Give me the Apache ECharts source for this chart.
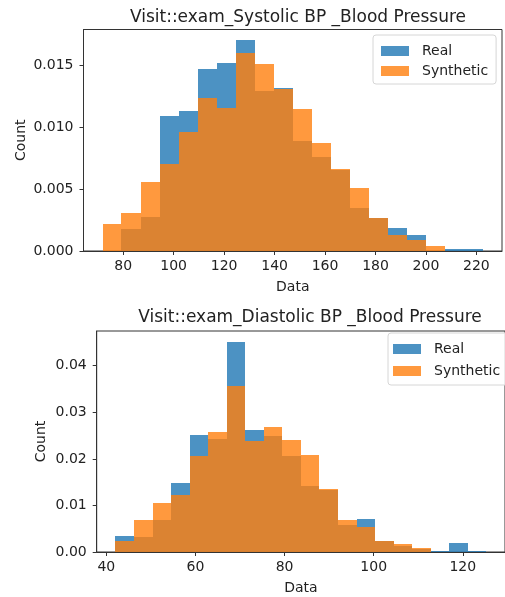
<!DOCTYPE html>
<html>
<head>
<meta charset="utf-8">
<script src="https://cdn.jsdelivr.net/npm/echarts@6/dist/echarts.min.js"></script>
<style>
html,body{margin:0;padding:0;background:#fff;}
#chart{width:505px;height:597px;}
</style>
</head>
<body>
<div id="chart"></div>
<script>
// ---- Data ----
const sysTitle = "Visit::exam_Systolic BP _Blood Pressure";
const diaTitle = "Visit::exam_Diastolic BP _Blood Pressure";
const seriesNames = ["Real", "Synthetic"];

const sysEdges = [71.8, 79.3, 86.9, 94.4, 102.0, 109.5, 117.0, 124.6, 132.1, 139.7, 147.2,
                  154.7, 162.3, 169.8, 177.4, 184.9, 192.4, 200.0, 207.5, 215.1, 222.6];
const sysReal = [0.0000, 0.00175, 0.00277, 0.01089, 0.01129, 0.0147, 0.01513, 0.01702, 0.01293, 0.01317,
                 0.0089, 0.00761, 0.00653, 0.00344, 0.00263, 0.00188, 0.00129, 0.0000, 0.0002, 0.0002];
const sysSynth = [0.00215, 0.00306, 0.00559, 0.00699, 0.00957, 0.01237, 0.0115, 0.01594, 0.01505, 0.01304,
                  0.01145, 0.00874, 0.00664, 0.00505, 0.00263, 0.00131, 0.0009, 0.0004, 0.0, 0.0];
const sysXTicks = [80, 100, 120, 140, 160, 180, 200, 220];
const sysYTicks = [0, 0.005, 0.010, 0.015];

const diaEdges = [42.0, 46.2, 50.4, 54.5, 58.7, 62.8, 67.0, 71.2, 75.3, 79.5, 83.7,
                  87.8, 92.0, 96.2, 100.3, 104.5, 108.6, 112.8, 117.0, 121.1, 125.3];
const diaReal = [0.0034, 0.0032, 0.0068, 0.01488, 0.02505, 0.02434, 0.0452, 0.02612, 0.02484, 0.02057,
                 0.01416, 0.0134, 0.0058, 0.0070, 0.0023, 0.0013, 0.0006, 0.0003, 0.0020, 0.0003];
const diaSynth = [0.0024, 0.0069, 0.0105, 0.01217, 0.02057, 0.02569, 0.03559, 0.02384, 0.02676, 0.02413,
                  0.02078, 0.0135, 0.0069, 0.0054, 0.0024, 0.0018, 0.0009, 0.0, 0.0, 0.0];
const diaXTicks = [40, 60, 80, 100, 120];
const diaYTicks = [0, 0.01, 0.02, 0.03, 0.04];

// ---- Build ----
const BLUE = '#1f77b4', ORANGE = '#ff7f0e';
const FONT = "'DejaVu Sans', sans-serif";
const TXT = '#222';
const FS = 14;

function binData(edges, vals) {
  return vals.map((v, i) => [edges[i], edges[i + 1], v]);
}
function histSeries(name, color, edges, vals, idx) {
  return {
    type: 'custom', name: name, xAxisIndex: idx, yAxisIndex: idx,
    itemStyle: { color: color, opacity: 0.8 },
    data: binData(edges, vals),
    encode: { x: [0, 1], y: 2 },
    renderItem: function (params, api) {
      const p0 = api.coord([api.value(0), api.value(2)]);
      const p1 = api.coord([api.value(1), 0]);
      const x0 = Math.round(p0[0]), x1 = Math.round(p1[0]);
      const y0 = Math.round(p0[1]), y1 = Math.round(p1[1]);
      return {
        type: 'rect',
        shape: { x: x0, y: y0, width: x1 - x0, height: y1 - y0 },
        style: { fill: color, opacity: 0.8 }
      };
    }
  };
}
function xRange(edges) {
  const lo = edges[0], hi = edges[edges.length - 1], m = (hi - lo) * 0.05;
  return [lo - m, hi + m];
}
function xAx(idx, edges, ticks) {
  const r = xRange(edges);
  return {
    type: 'value', gridIndex: idx, min: r[0], max: r[1],
    name: 'Data', nameLocation: 'middle', nameGap: 29,
    nameTextStyle: { fontFamily: FONT, fontSize: FS, color: TXT },
    axisLine: { lineStyle: { color: '#333', width: 1 } },
    axisTick: { length: 4, lineStyle: { color: '#333' }, customValues: ticks },
    axisLabel: { customValues: ticks, fontFamily: FONT, fontSize: FS, color: TXT, margin: 8 },
    splitLine: { show: false }
  };
}
function yAx(idx, vals1, vals2, ticks, dec, gap) {
  const mx = Math.max(...vals1, ...vals2) * 1.05;
  return {
    type: 'value', gridIndex: idx, min: 0, max: mx,
    name: 'Count', nameLocation: 'middle', nameGap: gap, nameMoveOverlap: false,
    nameTextStyle: { fontFamily: FONT, fontSize: FS, color: TXT },
    axisLine: { show: true, lineStyle: { color: '#333', width: 1 } },
    axisTick: { show: true, length: 4, lineStyle: { color: '#333' }, customValues: ticks },
    axisLabel: { customValues: ticks, fontFamily: FONT, fontSize: FS, color: TXT, margin: 10,
                 formatter: v => v.toFixed(dec) },
    splitLine: { show: false }
  };
}
function legend(left, top, pad, gap) {
  return {
    show: true, orient: 'vertical', left: left, top: top,
    data: seriesNames.map(n => ({ name: n, icon: 'rect' })),
    itemWidth: 28, itemHeight: 10, itemGap: gap,
    padding: pad,
    backgroundColor: 'rgba(255,255,255,0.8)',
    borderColor: '#d6d6d6', borderWidth: 1, borderRadius: 3,
    selectedMode: false,
    textStyle: { fontFamily: FONT, fontSize: FS, color: TXT, lineHeight: 16, padding: [0, 0, 0, 8] }
  };
}

const chart = echarts.init(document.getElementById('chart'), null, { renderer: 'canvas' });
chart.setOption({
  backgroundColor: '#fff',
  animation: false,
  color: [BLUE, ORANGE],
  title: [
    { text: sysTitle, left: 293, top: 4, textAlign: 'center',
      textStyle: { fontFamily: FONT, fontSize: 17, fontWeight: 'normal', color: TXT } },
    { text: diaTitle, left: 305, top: 304, textAlign: 'center',
      textStyle: { fontFamily: FONT, fontSize: 17, fontWeight: 'normal', color: TXT } }
  ],
  grid: [
    { left: 83.5, right: 3, top: 29.5, bottom: 346, show: true, borderColor: '#333', borderWidth: 1, backgroundColor: 'transparent' },
    { left: 96.7, right: -9.7, top: 331, bottom: 45, show: true, borderColor: '#333', borderWidth: 1, backgroundColor: 'transparent' }
  ],
  xAxis: [xAx(0, sysEdges, sysXTicks), xAx(1, diaEdges, diaXTicks)],
  yAxis: [yAx(0, sysReal, sysSynth, sysYTicks, 3, 55), yAx(1, diaReal, diaSynth, diaYTicks, 2, 48)],
  legend: [legend(373, 35, [8, 8, 5, 8], 4), legend(388, 333, [8, 8, 6, 5], 6)],
  series: [
    histSeries('Real', BLUE, sysEdges, sysReal, 0),
    histSeries('Synthetic', ORANGE, sysEdges, sysSynth, 0),
    histSeries('Real', BLUE, diaEdges, diaReal, 1),
    histSeries('Synthetic', ORANGE, diaEdges, diaSynth, 1)
  ]
});
</script>
</body>
</html>
